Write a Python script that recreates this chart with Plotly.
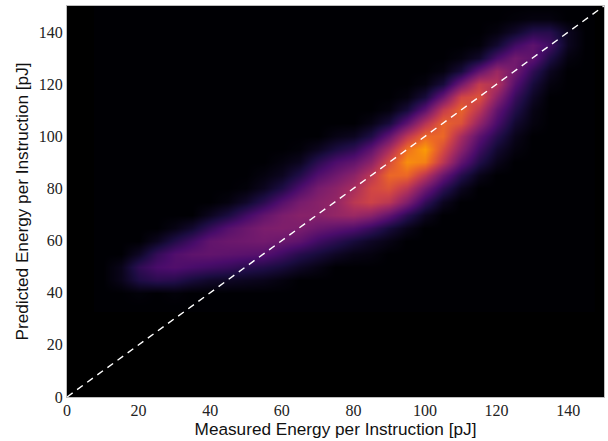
import plotly.graph_objects as go

x_centers = list(range(10, 150, 5))
y_centers = list(range(35, 155, 5))

# each row: first x of the listed values, then colour fractions (x step 5)
r040 = (20, [.01,0,.01])
r045 = (15, [.04,.12,.15,.14,.1,.07,.06,.05,.04,.02])
r050 = (15, [.04,.16,.22,.24,.22,.2,.18,.15,.13,.1,.06,.03])
r055 = (20, [.06,.17,.24,.27,.28,.27,.26,.25,.2,.14,.1,.06,.03,.02])
r060 = (25, [.05,.13,.2,.28,.3,.31,.32,.3,.27,.2,.15,.1,.06,.03])
r065 = (30, [.03,.08,.17,.25,.3,.34,.35,.34,.3,.27,.24,.18,.1,.04])
r070 = (40, [.05,.11,.2,.28,.34,.37,.37,.4,.42,.38,.28,.15,.05])
r075 = (45, [.02,.07,.15,.25,.33,.37,.4,.5,.55,.5,.35,.17,.05])
r080 = (50, [.01,.05,.12,.23,.33,.38,.45,.56,.6,.5,.32,.16,.05])
r085 = (55, [.02,.05,.13,.24,.31,.38,.5,.66,.66,.5,.3,.14,.04])
r090 = (60, [.02,.05,.15,.23,.28,.38,.58,.75,.72,.5,.28,.13,.04])
r095 = (65, [.01,.05,.11,.16,.27,.45,.68,.78,.58,.38,.2,.08,.02])
r100 = (75, [.03,.05,.12,.28,.5,.66,.66,.45,.27,.14,.04])
r105 = (85, [.03,.1,.27,.48,.65,.6,.4,.22,.08,.02])
r110 = (90, [.02,.1,.27,.52,.65,.5,.28,.13,.03])
r115 = (95, [.02,.1,.3,.56,.6,.38,.18,.06])
r120 = (100, [.02,.1,.32,.52,.48,.25,.1,.02])
r125 = (105, [.02,.1,.28,.42,.32,.16,.05])
r130 = (110, [.02,.07,.22,.32,.27,.12,.02])
r135 = (115, [.01,.08,.2,.27,.2,.05])
r140 = (120, [.02,.07,.14,.14,.05])
r145 = (125, [.01,.02,.02])
rows = {40: r040, 45: r045, 50: r050, 55: r055, 60: r060, 65: r065, 70: r070, 75: r075, 80: r080,
        85: r085, 90: r090, 95: r095, 100: r100, 105: r105, 110: r110, 115: r115, 120: r120,
        125: r125, 130: r130, 135: r135, 140: r140, 145: r145}

z_rows = []
for y in y_centers:
    line = [0] * len(x_centers)
    if y in rows:
        start, values = rows[y]
        for i, v in enumerate(values):
            line[x_centers.index(start + 5 * i)] = v
    z_rows.append(line)

diag_x = [0, 150]
diag_y = [0, 150]
tick_vals = [0, 20, 40, 60, 80, 100, 120, 140]
tick_text = ["0", "20", "40", "60", "80", "100", "120", "140"]
x_title = "Measured Energy per Instruction [pJ]"
y_title = "Predicted Energy per Instruction [pJ]"

fig = go.Figure()
fig.add_trace(go.Heatmap(x=x_centers, y=y_centers, z=z_rows, colorscale="Inferno", zmin=0, zmax=1,
                         zsmooth="best", showscale=False, hoverinfo="skip"))
fig.add_trace(go.Scatter(x=diag_x, y=diag_y, mode="lines", hoverinfo="skip", showlegend=False,
                         line=dict(color="white", width=1.4, dash="7px,5.5px")))

axis = dict(range=[0, 150], tickvals=tick_vals, ticktext=tick_text, showgrid=False, zeroline=False,
            ticks="", showline=True, linecolor="#bdbdbd", linewidth=1, mirror=True,
            tickfont=dict(family="Liberation Serif", size=16, color="#222"),
            title_font=dict(family="Liberation Sans", size=17.2, color="#111"))
fig.update_layout(width=608, height=441, autosize=False, margin=dict(l=67, r=4, t=6, b=44),
                  paper_bgcolor="white", plot_bgcolor="black", showlegend=False,
                  xaxis=dict(axis, ticklabelstandoff=-1, title=dict(text=x_title, standoff=3)),
                  yaxis=dict(axis, title=dict(text=y_title, standoff=5)))
fig.write_html("out.html", config={"displayModeBar": False}, post_script="document.body.style.margin='0';")
